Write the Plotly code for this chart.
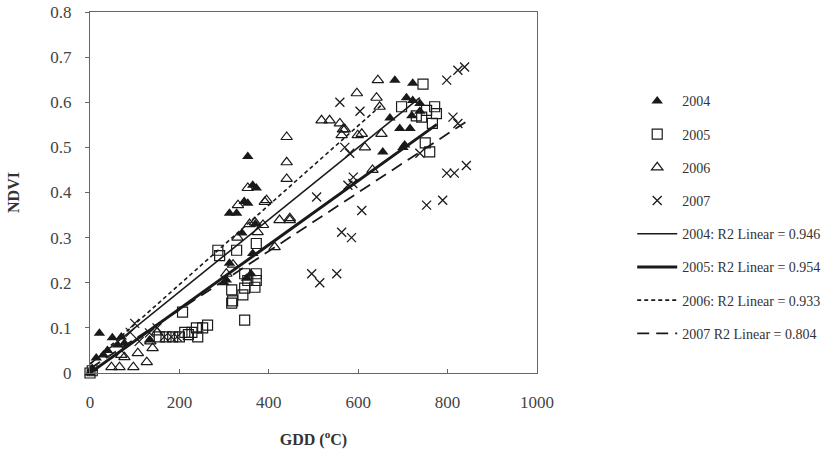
import plotly.graph_objects as go

# ---- data ----
x2004 = [0, 5, 14, 21, 30, 39, 50, 62, 70, 77, 133, 300, 305, 312, 312, 328, 340, 345, 350, 353, 353,
         360, 364, 364, 372, 370, 655, 671, 682, 693, 704, 708, 716, 720, 722, 722, 738, 738, 700]
y2004 = [0, 0.01, 0.033, 0.088, 0.04, 0.05, 0.078, 0.062, 0.08, 0.066, 0.073, 0.20, 0.206, 0.354, 0.243,
         0.354, 0.31, 0.38, 0.21, 0.48, 0.376, 0.22, 0.416, 0.265, 0.41, 0.33, 0.49, 0.565, 0.649, 0.542,
         0.505, 0.61, 0.542, 0.57, 0.604, 0.642, 0.597, 0.58, 0.50]

x2005 = [0, 5, 155, 170, 185, 200, 207, 212, 220, 228, 238, 241, 252, 263, 286, 290, 328, 317, 317, 319,
         342, 346, 346, 346, 353, 369, 372, 372, 372, 697, 742, 745, 750, 753, 760, 766, 771, 775, 730]
y2005 = [0, 0.005, 0.08, 0.08, 0.08, 0.08, 0.135, 0.09, 0.085, 0.09, 0.10, 0.08, 0.10, 0.106, 0.272, 0.26,
         0.272, 0.184, 0.155, 0.16, 0.173, 0.22, 0.188, 0.117, 0.205, 0.19, 0.22, 0.205, 0.287, 0.59,
         0.567, 0.64, 0.51, 0.582, 0.49, 0.553, 0.59, 0.575, 0.57]

x2006 = [48, 66, 70, 77, 97, 107, 127, 135, 140, 150, 305, 320, 330, 331, 353, 357, 369, 375, 387, 391,
         395, 413, 424, 440, 440, 440, 447, 447, 518, 536, 559, 563, 566, 570, 597, 599, 608, 615, 632,
         641, 644, 648, 652]
y2006 = [0.013, 0.013, 0.04, 0.035, 0.013, 0.044, 0.024, 0.07, 0.055, 0.09, 0.22, 0.24, 0.30, 0.372, 0.41,
         0.33, 0.334, 0.312, 0.328, 0.379, 0.383, 0.279, 0.339, 0.523, 0.467, 0.43, 0.343, 0.339, 0.56,
         0.56, 0.553, 0.527, 0.54, 0.54, 0.62, 0.527, 0.53, 0.50, 0.45, 0.61, 0.649, 0.59, 0.53]

x2007 = [90, 100, 110, 133, 150, 166, 182, 195, 496, 507, 514, 552, 559, 563, 570, 577, 581, 585, 588,
         589, 604, 608, 738, 753, 789, 798, 798, 812, 815, 823, 823, 838, 842]
y2007 = [0.09, 0.11, 0.07, 0.089, 0.10, 0.08, 0.08, 0.08, 0.22, 0.39, 0.20, 0.22, 0.60, 0.312, 0.50,
         0.416, 0.487, 0.30, 0.42, 0.434, 0.58, 0.36, 0.487, 0.372, 0.383, 0.649, 0.443, 0.567, 0.443,
         0.671, 0.553, 0.678, 0.46]

# fitted lines
fit_names = ["2004: R2 Linear = 0.946", "2005: R2 Linear = 0.954",
             "2006: R2 Linear = 0.933", "2007 R2 Linear = 0.804"]
fit_slope = [0.00080, 0.00071, 0.00088, 0.00065]
fit_intercept = [0.02, 0.0, 0.02, 0.01]
fit_xmin = [0, 0, 0, 0]
fit_xmax = [738, 776, 655, 843]
fit_dash = ["solid", "solid", "4px,3px", "12px,7px"]
fit_width = [1.6, 3.0, 1.6, 1.8]

x_ticks = [0, 200, 400, 600, 800, 1000]
y_ticks = [0, 0.1, 0.2, 0.3, 0.4, 0.5, 0.6, 0.7, 0.8]

INK = "#1a1a1a"
FONT = "Liberation Serif, Times New Roman, DejaVu Serif, serif"

fig = go.Figure()

series = [
    ("2004", x2004, y2004, dict(symbol="triangle-up", size=10, color=INK)),
    ("2005", x2005, y2005, dict(symbol="square-open", size=10, color=INK, line=dict(width=1.2, color=INK))),
    ("2006", x2006, y2006, dict(symbol="triangle-up-open", size=10, color=INK, line=dict(width=1.2, color=INK))),
    ("2007", x2007, y2007, dict(symbol="x-thin-open", size=9, color=INK, line=dict(width=1.3, color=INK))),
]
for i, (name, xs, ys, mk) in enumerate(series):
    fig.add_trace(go.Scatter(x=xs, y=ys, mode="markers", name=name, marker=mk,
                             cliponaxis=False, legendgroup=f"g{i}"))

for i in range(4):
    xs = [fit_xmin[i], fit_xmax[i]]
    ys = [fit_intercept[i] + fit_slope[i] * v for v in xs]
    fig.add_trace(go.Scatter(x=xs, y=ys, mode="lines", name=fit_names[i],
                             line=dict(color=INK, width=fit_width[i], dash=fit_dash[i]),
                             legendgroup=f"f{i}"))

fig.update_layout(
    width=837, height=456,
    margin=dict(l=90, r=300, t=12, b=83, autoexpand=False),
    paper_bgcolor="white", plot_bgcolor="white",
    font=dict(family=FONT, size=15, color="#333"),
    showlegend=True,
    legend=dict(x=1.213, y=0.797, xanchor="left", yanchor="top",
                traceorder="grouped", tracegroupgap=12,
                font=dict(family=FONT, size=14, color="#333"),
                bgcolor="rgba(0,0,0,0)", itemwidth=40),
)
fig.update_xaxes(range=[0, 1000], tickvals=x_ticks, ticktext=[str(v) for v in x_ticks],
                 showgrid=False, zeroline=False, showline=True, linecolor="#666", linewidth=1,
                 mirror=True, ticks="inside", ticklen=4, tickcolor="#666",
                 ticklabelstandoff=14,
                 tickfont=dict(family=FONT, size=17, color="#444"),
                 title=dict(text="<b>GDD (<sup>o</sup>C)</b>", font=dict(family=FONT, size=16, color="#333"),
                            standoff=22))
fig.update_yaxes(range=[0, 0.8], tickvals=y_ticks, ticktext=["0"] + [f"{v:.1f}" for v in y_ticks[1:]],
                 showgrid=False, zeroline=False, showline=True, linecolor="#666", linewidth=1,
                 mirror=True, ticks="outside", ticklen=4, tickcolor="#666",
                 ticklabelstandoff=10,
                 tickfont=dict(family=FONT, size=17, color="#444"),
                 title=dict(text="<b>NDVI</b>", font=dict(family=FONT, size=16, color="#333"),
                            standoff=26))

fig.write_html("out.html")
